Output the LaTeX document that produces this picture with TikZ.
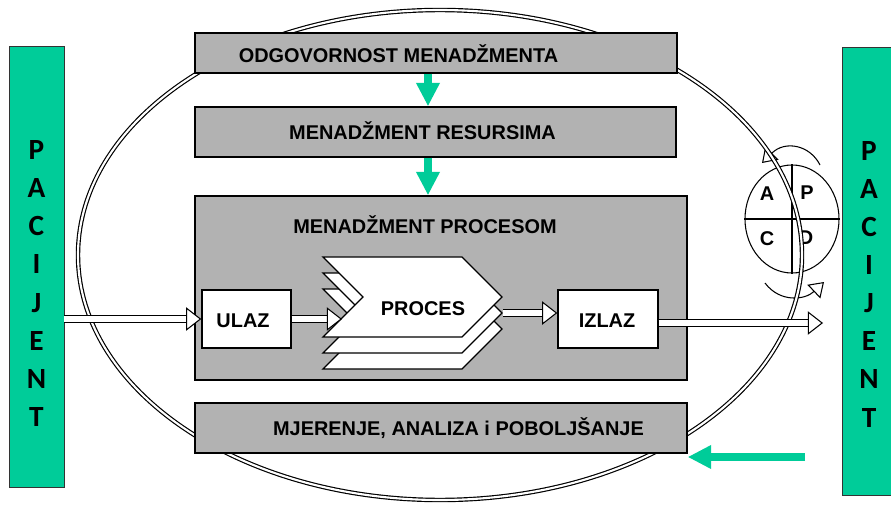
\documentclass[tikz,border=0pt]{standalone}
\usepackage{fontspec}
\setmainfont{Liberation Sans}
\newfontfamily\pacfont{Carlito}
\usetikzlibrary{arrows.meta,shapes.geometric,shapes.symbols}
\definecolor{pacgreen}{RGB}{0,204,153}
\definecolor{boxgray}{RGB}{178,178,178}

\begin{document}
\begin{tikzpicture}[x=0.03cm,y=-0.03cm,
  box/.style={draw,line width=1.2pt,fill=boxgray,inner sep=0pt},
  inout/.style={draw,line width=1.2pt,fill=white,inner sep=0pt,minimum height=1.74cm},
  lbl/.style={font=\fontsize{17}{20}\selectfont\bfseries,inner sep=0pt,text height=12.2pt,text depth=0pt},
  pac/.style={draw=black!80,line width=0.8pt,fill=pacgreen,inner sep=0pt},
  pacletter/.style={font=\pacfont\fontsize{25}{28}\selectfont\bfseries,inner sep=0pt,text height=16pt,text depth=0pt},
  greenarr/.style={draw=pacgreen,line width=7pt,-{Triangle[length=20pt,width=19pt,fill=pacgreen]}},
  hollow/.style={double,double distance=4.5pt,line width=0.9pt,-{Triangle[open,fill=white,length=13pt,width=20pt,line width=0.9pt]}},
  cyclearr/.style={line width=0.9pt,-{Triangle[open,fill=white,length=12pt,width=16pt,line width=0.9pt]}},
  phase/.style={draw,line width=1.1pt,fill=white,signal,signal from=west,signal to=east,
    minimum width=5.37cm,minimum height=2.4cm,inner sep=0pt}]

\useasboundingbox (0,0) rectangle (891,506);

% patient bars
\node[pac,minimum width=1.65cm,minimum height=13.23cm] (lpac) at (36.5,266.5) {};
\node[pac,minimum width=1.74cm,minimum height=13.44cm] (rpac) at (871,271) {};
\foreach \c [count=\i from 0] in {P,A,C,I,J,E,N,T} {
  \node[pacletter] at (36.5,{150+38.2*\i}) {\c};
  \node[pacletter] at (869,{151+38.1*\i}) {\c};
}

% PDCA
\node[draw,ellipse,line width=0.9pt,minimum width=2.82cm,minimum height=3.24cm,inner sep=0pt] (pdca) at (792,219) {};
\draw[line width=0.9pt] (pdca.north) -- (pdca.south);
\draw[line width=0.9pt] (pdca.west) -- (pdca.east);
\node[lbl] at (767,193) {A};
\node[lbl] at (807,192) {P};
\node[lbl] at (767,238) {C};
\node[lbl] at (806,237) {D};
\draw[cyclearr] (820,165) .. controls (810,145) and (785,140) .. (762,163);
\draw[cyclearr] (765,283) .. controls (780,303) and (805,300) .. (824,282);

% system
\draw[double,double distance=1.8pt,line width=1pt] (440,255) ellipse [x radius=362,y radius=245];

\node[box,minimum width=14.46cm,minimum height=1.2cm] (odg) at (436,53) {};
\node[box,minimum width=14.43cm,minimum height=1.5cm] (res) at (435.5,132) {};
\node[box,minimum width=14.76cm,minimum height=5.52cm] (proc) at (441,288) {};
\node[box,minimum width=14.76cm,minimum height=1.5cm] (mjer) at (441,428) {};
\node[lbl] at (398.5,55.5) {ODGOVORNOST MENADŽMENTA};
\node[lbl] at (422.5,132.5) {MENADŽMENT RESURSIMA};
\node[lbl] at (425,226) {MENADŽMENT PROCESOM};
\node[lbl] at (458.5,428) {MJERENJE, ANALIZA i POBOLJŠANJE};

\node[inout,minimum width=2.67cm] (ulaz) at (246.5,319) {};
\node[inout,minimum width=3cm] (izlaz) at (608,319) {};
\node[lbl] at (243,320) {ULAZ};
\node[lbl] at (607,320) {IZLAZ};

\node[phase] (back) at (412.5,329) {};
\node[phase] (mid) at (412.5,313) {};
\node[phase] (front) at (412.5,297) {};
\node[lbl] at (423,308.5) {PROCES};

\coordinate (axis) at (428,0);
\coordinate (pin) at (342,319);
\coordinate (outend) at (823,323);
\coordinate (fb) at (805,457);

\draw[greenarr] (odg.south -| axis) -- (res.north -| axis);
\draw[greenarr] (res.south -| axis) -- (proc.north -| axis);
\draw[greenarr,line width=6pt] (fb) -- (fb -| mjer.east);

\draw[hollow] (lpac.east |- ulaz.west) -- (ulaz.west);
\draw[hollow] (ulaz.east) -- (pin);
\draw[hollow] (mid.east) -- (izlaz.west |- mid.east);
\draw[hollow] (izlaz.east |- outend) -- (outend);
\end{tikzpicture}
\end{document}
